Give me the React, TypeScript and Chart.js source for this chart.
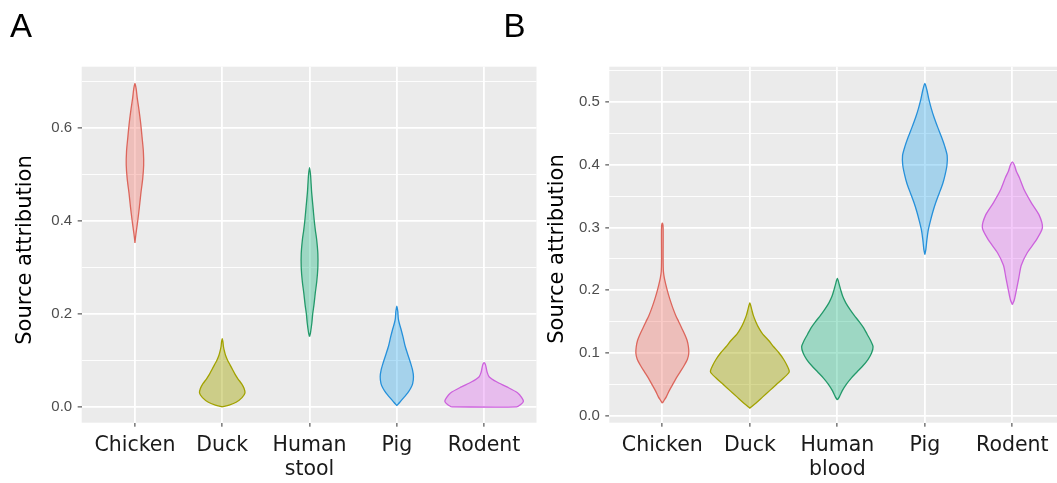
import React, { useEffect, useRef } from "react";
import { Chart, registerables } from "chart.js";

Chart.register(...registerables);

// ---------- data ----------
const panelACategories = [["Chicken"], ["Duck"], ["Human", "stool"], ["Pig"], ["Rodent"]];
const panelBCategories = [["Chicken"], ["Duck"], ["Human", "blood"], ["Pig"], ["Rodent"]];

const panelAMajorTicks = [0, 0.2, 0.4, 0.6];
const panelATickLabels = ["0.0", "0.2", "0.4", "0.6"];
const panelAMinorTicks = [0.1, 0.3, 0.5, 0.7];

const panelBMajorTicks = [0, 0.1, 0.2, 0.3, 0.4, 0.5];
const panelBTickLabels = ["0.0", "0.1", "0.2", "0.3", "0.4", "0.5"];
const panelBMinorTicks = [0.05, 0.15, 0.25, 0.35, 0.45, 0.55];

const yTitle = "Source attribution";
const panelLetters = ["A", "B"];

// violin profiles: [source attribution value, relative density]
const aChicken = [[0.353, 0], [0.365, 0.6], [0.38, 1.5], [0.4, 2.8], [0.43, 4.5], [0.46, 6], [0.49, 7.8], [0.52, 8.8], [0.55, 8.5], [0.58, 7.2], [0.61, 5.8], [0.64, 4], [0.665, 2.3], [0.685, 1.2], [0.696, 0]];
const aDuck = [[0.0, 0], [0.004, 7], [0.01, 14], [0.02, 20], [0.03, 23], [0.04, 22], [0.05, 19.5], [0.06, 16], [0.07, 13], [0.08, 10.5], [0.09, 8], [0.1, 5.5], [0.11, 3.5], [0.12, 2.2], [0.13, 1.2], [0.14, 0.7], [0.147, 0]];
const aHuman = [[0.151, 0], [0.16, 1], [0.18, 2.3], [0.2, 3.2], [0.22, 4.5], [0.245, 5.8], [0.27, 7.3], [0.3, 8.4], [0.33, 8.4], [0.36, 7.2], [0.38, 5.9], [0.4, 4.8], [0.43, 3.5], [0.46, 2.2], [0.48, 1.6], [0.5, 1], [0.515, 0]];
const aPig = [[0.003, 0], [0.01, 3], [0.02, 7], [0.03, 11], [0.04, 14], [0.05, 16], [0.065, 16.8], [0.08, 15.8], [0.095, 13.8], [0.11, 11.5], [0.13, 8.5], [0.15, 6.3], [0.165, 4.5], [0.18, 2.5], [0.19, 1.5], [0.205, 1], [0.217, 0]];
const aRodent = [[0.0, 33], [0.005, 37], [0.012, 39.7], [0.02, 38], [0.03, 34], [0.043, 23], [0.054, 12.5], [0.065, 5], [0.075, 3], [0.085, 2], [0.092, 1.2], [0.095, 0]];

const bChicken = [[0.02, 0], [0.025, 2], [0.03, 4], [0.04, 7], [0.05, 10.5], [0.06, 14], [0.07, 18], [0.08, 22], [0.09, 25.3], [0.1, 26.7], [0.11, 26.3], [0.12, 25], [0.13, 22.5], [0.14, 19.5], [0.15, 16.5], [0.16, 13.5], [0.17, 11], [0.18, 8.8], [0.19, 6.8], [0.2, 5], [0.21, 3.4], [0.22, 2], [0.23, 1.1], [0.25, 0.8], [0.3, 0.8], [0.307, 0]];
const bDuck = [[0.012, 0], [0.02, 6], [0.03, 13], [0.04, 20], [0.05, 27], [0.06, 34], [0.07, 39.7], [0.08, 37.5], [0.09, 34], [0.1, 29.5], [0.11, 24], [0.12, 19], [0.13, 13], [0.14, 9], [0.15, 6], [0.16, 3.5], [0.17, 1.8], [0.18, 0]];
const bHuman = [[0.025, 0], [0.03, 2], [0.04, 5], [0.05, 9], [0.06, 14], [0.07, 20], [0.08, 26], [0.09, 31], [0.1, 34.5], [0.11, 36], [0.12, 33.5], [0.13, 30], [0.14, 26.5], [0.15, 22], [0.16, 17], [0.17, 12.5], [0.18, 8.5], [0.19, 5.5], [0.2, 3.5], [0.21, 1.8], [0.219, 0]];
const bPig = [[0.257, 0], [0.265, 1], [0.28, 2], [0.295, 3.3], [0.31, 5.5], [0.325, 8], [0.34, 11], [0.355, 14.5], [0.37, 18], [0.385, 20.5], [0.4, 22.3], [0.415, 22.5], [0.43, 20], [0.445, 16.7], [0.46, 13], [0.475, 9.5], [0.49, 6.5], [0.505, 4], [0.52, 2], [0.53, 0]];
const bRodent = [[0.177, 0], [0.185, 2], [0.2, 4], [0.22, 6.5], [0.24, 9], [0.26, 15], [0.28, 24], [0.3, 30.3], [0.32, 27], [0.34, 19], [0.36, 12], [0.38, 7], [0.39, 4], [0.4, 2], [0.405, 0]];

const panelAViolins = [aChicken, aDuck, aHuman, aPig, aRodent];
const panelBViolins = [bChicken, bDuck, bHuman, bPig, bRodent];

const fillColors = ["rgba(240,110,100,0.36)", "rgba(163,165,0,0.42)", "rgba(0,175,115,0.33)", "rgba(20,160,235,0.32)", "rgba(225,105,240,0.36)"];
const outlineColors = ["#DC665C", "#A2A200", "#23996A", "#2690DA", "#CC62DC"];

const MAX_DENSITY = 39.7;
const MAX_HALF_WIDTH = 0.45;

// ---------- helpers ----------
function outline(profile: number[][], center: number) {
  const k = MAX_HALF_WIDTH / MAX_DENSITY;
  const left = profile.map(([v, d]) => ({ x: center - d * k, y: v }));
  const right = profile
    .slice()
    .reverse()
    .map(([v, d]) => ({ x: center + d * k, y: v }));
  const pts: { x: number; y: number }[] = [];
  for (const p of [...left, ...right]) {
    const last = pts[pts.length - 1];
    if (!last || Math.abs(last.x - p.x) > 1e-9 || Math.abs(last.y - p.y) > 1e-9) pts.push(p);
  }
  const f = pts[0];
  const l = pts[pts.length - 1];
  if (Math.abs(f.x - l.x) > 1e-9 || Math.abs(f.y - l.y) > 1e-9) pts.push({ ...f });
  return pts;
}

const panelDecor = {
  id: "panelDecor",
  beforeDraw(chart: any) {
    const { ctx, chartArea: a } = chart;
    ctx.save();
    ctx.fillStyle = "#EBEBEB";
    ctx.fillRect(a.left, a.top, a.right - a.left, a.bottom - a.top);
    ctx.restore();
  },
  afterDraw(chart: any, _args: any, opts: any) {
    const { ctx } = chart;
    ctx.save();
    ctx.translate(opts.titleX, opts.titleY);
    ctx.rotate(-Math.PI / 2);
    ctx.font = '21px "DejaVu Sans"';
    ctx.fillStyle = "#000000";
    ctx.textAlign = "center";
    ctx.textBaseline = "middle";
    ctx.fillText(opts.text, 0, 0);
    ctx.restore();
  },
};

type PanelCfg = {
  categories: string[][];
  violins: number[][][];
  major: number[];
  majorLabels: string[];
  minor: number[];
  yMin: number;
  yMax: number;
  xMin: number;
  xMax: number;
  yAxisWidth: number;
  padRight: number;
  titleX: number;
  titleY: number;
};

function makeChart(canvas: HTMLCanvasElement, p: PanelCfg) {
  const datasets = p.violins.map((prof, i) => ({
    label: p.categories[i].join(" "),
    data: outline(prof, i),
    showLine: true,
    fill: "shape",
    backgroundColor: fillColors[i],
    borderColor: outlineColors[i],
    borderWidth: 1.3,
    pointRadius: 0,
    pointHoverRadius: 0,
    tension: 0.25,
  }));
  const allY = [...p.major, ...p.minor].sort((a, b) => a - b);
  const isMajor = (v: any) => p.major.some((m) => Math.abs(m - v) < 1e-9);
  return new Chart(canvas, {
    type: "scatter",
    data: { datasets } as any,
    plugins: [panelDecor as any],
    options: {
      responsive: false,
      animation: false,
      events: [],
      layout: { padding: { top: 66.7, left: 0, right: p.padRight, bottom: 0 } },
      plugins: {
        legend: { display: false },
        tooltip: { enabled: false },
        panelDecor: { titleX: p.titleX, titleY: p.titleY, text: yTitle },
      } as any,
      scales: {
        x: {
          type: "linear",
          min: p.xMin,
          max: p.xMax,
          afterBuildTicks: (s: any) => {
            s.ticks = p.categories.map((_, i) => ({ value: i }));
          },
          afterFit: (s: any) => {
            s.height = 60.3;
          },
          ticks: {
            autoSkip: false,
            maxRotation: 0,
            minRotation: 0,
            padding: 7,
            color: "#1a1a1a",
            font: { family: '"DejaVu Sans"', size: 20.5, lineHeight: 1.17 },
            callback: (v: any) => p.categories[Math.round(v)],
          },
          grid: { color: "#FFFFFF", lineWidth: 1.8, tickLength: 4, tickColor: "#333333", tickWidth: 1 },
          border: { display: false },
        },
        y: {
          type: "linear",
          min: p.yMin,
          max: p.yMax,
          afterBuildTicks: (s: any) => {
            s.ticks = allY.map((v) => ({ value: v }));
          },
          afterFit: (s: any) => {
            s.width = p.yAxisWidth;
          },
          ticks: {
            padding: 5.5,
            color: "#4D4D4D",
            font: { family: '"Liberation Sans", Arial, sans-serif', size: 15 },
            callback: (v: any) => {
              const idx = p.major.findIndex((m) => Math.abs(m - v) < 1e-9);
              return idx >= 0 ? p.majorLabels[idx] : "";
            },
          },
          grid: {
            color: "#FFFFFF",
            lineWidth: (c: any) => (isMajor(c.tick?.value) ? 1.8 : 0.9),
            tickLength: 4,
            tickWidth: 1,
            tickColor: (c: any) => (isMajor(c.tick?.value) ? "#333333" : "rgba(0,0,0,0)"),
          },
          border: { display: false },
        },
      },
    } as any,
  });
}

export default function App() {
  const refA = useRef<HTMLCanvasElement>(null);
  const refB = useRef<HTMLCanvasElement>(null);

  useEffect(() => {
    const a = makeChart(refA.current!, {
      categories: panelACategories,
      violins: panelAViolins,
      major: panelAMajorTicks,
      majorLabels: panelATickLabels,
      minor: panelAMinorTicks,
      yMin: -0.034,
      yMax: 0.732,
      xMin: -0.61,
      xMax: 4.6,
      yAxisWidth: 81.7,
      padRight: 8.5,
      titleX: 26,
      titleY: 250,
    });
    const b = makeChart(refB.current!, {
      categories: panelBCategories,
      violins: panelBViolins,
      major: panelBMajorTicks,
      majorLabels: panelBTickLabels,
      minor: panelBMinorTicks,
      yMin: -0.0112,
      yMax: 0.5568,
      xMin: -0.606,
      xMax: 4.51,
      yAxisWidth: 64.3,
      padRight: 0,
      titleX: 13,
      titleY: 249,
    });
    return () => {
      a.destroy();
      b.destroy();
    };
  }, []);

  const letterStyle: React.CSSProperties = {
    position: "absolute",
    top: 9,
    fontFamily: '"Liberation Sans", Arial, sans-serif',
    fontSize: 33,
    lineHeight: "33px",
    color: "#000",
  };

  return (
    <div style={{ position: "fixed", left: 0, top: 0, width: 1057, height: 483, background: "#FFFFFF", overflow: "hidden" }}>
      <canvas ref={refA} width={545} height={483} style={{ position: "absolute", left: 0, top: 0 }} />
      <canvas ref={refB} width={512} height={483} style={{ position: "absolute", left: 545, top: 0 }} />
      <div style={{ ...letterStyle, left: 10 }}>{panelLetters[0]}</div>
      <div style={{ ...letterStyle, left: 503.5 }}>{panelLetters[1]}</div>
    </div>
  );
}
